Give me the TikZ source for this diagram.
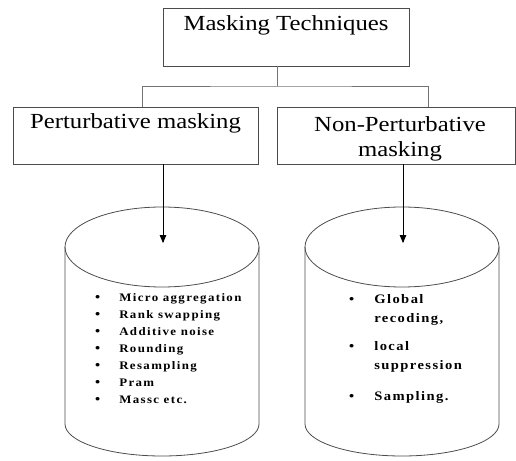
\documentclass[tikz,border=0pt]{standalone}
\usepackage{fontspec}
\setmainfont{Liberation Serif}[FakeStretch=1.15]
\newfontfamily\listfont{Liberation Serif}[FakeStretch=1.12,LetterSpace=12]
\newfontfamily\widelistfont{Liberation Serif}[FakeStretch=1.12,LetterSpace=11]
\newcommand{\bul}{{\fontsize{13}{13}\selectfont\textbullet}}
\usetikzlibrary{arrows,positioning}
\tikzset{box/.style={draw=black!70,line width=0.8pt,inner sep=0pt}}
\tikzset{title/.style={font=\fontsize{21.5}{25}\selectfont,align=center}}
\tikzset{link/.style={draw=black!55,line width=0.9pt}}
\tikzset{feed/.style={-triangle 45,line width=0.8pt}}
\tikzset{drum/.style={draw=black!70,line width=0.8pt}}
\tikzset{items/.style={inner sep=0pt,anchor=north west}}

\begin{document}
\begin{tikzpicture}[x=1pt,y=1pt]
    \useasboundingbox (0,0) rectangle (516,460);
    % boxes
    \node [box,minimum width=246pt,minimum height=58pt] (tech) at (286,423) {};
    \node [title] (techtext) at (286,435) {Masking Techniques};
    \node [box,minimum width=245pt,minimum height=57pt] (pert) at (135.5,324.5) {};
    \node [title] (perttext) at (135.5,337) {Perturbative masking};
    \node [box,minimum width=238pt,minimum height=57pt] (nonpert) at (396,324.5) {};
    \node [title] (nonperttext) at (400,321) {Non-Perturbative\\masking};
    % tree
    \coordinate (fork) at (277,374);
    \coordinate (pl) at (142,0);
    \coordinate (pr) at (428,0);
    \draw [link] (tech.south -| fork) -- (fork);
    \draw [link] (pert.north -| pl) |- (fork) -| (nonpert.north -| pr);
    % cylinders
    \foreach \cx/\nm in {162/pertdb,402/nonpertdb} {
        \draw [drum] (\cx,213) ellipse (97 and 40);
        \draw [drum] (\cx-97,213) -- (\cx-97,36) arc (180:360:97 and 32) -- (\cx+97,213);
        \coordinate (\nm) at (\cx+1,217);
    }
    \draw [feed] (pert.south -| pertdb) -- (pertdb);
    \draw [feed] (nonpert.south -| nonpertdb) -- (nonpertdb);
    % lists
    \node [items,font=\listfont\bfseries\fontsize{11.5}{17}\selectfont] (pertlist) at (95,171) {%
        \begin{tabular}{@{}c@{\hspace{19pt}}l@{}}
        \bul & Micro aggregation\\
        \bul & Rank swapping\\
        \bul & Additive noise\\
        \bul & Rounding\\
        \bul & Resampling\\
        \bul & Pram\\
        \bul & Massc etc.
        \end{tabular}};
    \node [items,font=\widelistfont\bfseries\fontsize{13}{19}\selectfont] (nonpertlist) at (349,170) {%
        \begin{tabular}{@{}c@{\hspace{20pt}}l@{}}
        \bul & Global\\
         & recoding,\\[9pt]
        \bul & local\\
         & suppression\\[12pt]
        \bul & Sampling.
        \end{tabular}};
\end{tikzpicture}
\end{document}
